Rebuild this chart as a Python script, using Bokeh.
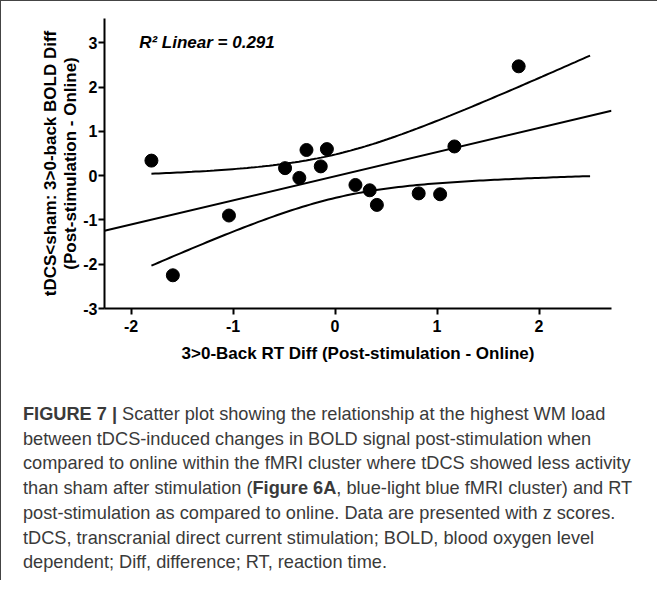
import numpy as np
from bokeh.plotting import figure
from bokeh.models import Range1d, FixedTicker, Label, Div
from bokeh.layouts import column
from bokeh.embed import file_html
from bokeh.resources import INLINE

# ---- data ----
rt_diff = [-1.80, -1.59, -1.04, -0.49, -0.35, -0.28, -0.14, -0.08, 0.20, 0.34, 0.41, 0.82, 1.03, 1.17, 1.80]
bold_diff = [0.34, -2.25, -0.90, 0.17, -0.05, 0.58, 0.21, 0.60, -0.21, -0.33, -0.66, -0.40, -0.42, 0.66, 2.47]
x_ticks = [-2, -1, 0, 1, 2]
x_tick_labels = ["-2", "-1", "0", "1", "2"]
y_ticks = [-3, -2, -1, 0, 1, 2, 3]
y_tick_labels = ["-3", "-2", "-1", "0", "1", "2", "3"]
x_title = "3>0-Back RT Diff (Post-stimulation - Online)"
y_title = "tDCS<sham: 3>0-back BOLD Diff\n(Post-stimulation - Online)"
r2_text = "R\u00b2 Linear = 0.291"
band_x_end = 2.5
t_crit = 2.160  # t(0.975, df=13)

caption_lines = [
    "<b>FIGURE 7 |</b> Scatter plot showing the relationship at the highest WM load",
    "between tDCS-induced changes in BOLD signal post-stimulation when",
    "compared to online within the fMRI cluster where tDCS showed less activity",
    "than sham after stimulation (<b>Figure 6A</b>, blue-light blue fMRI cluster) and RT",
    "post-stimulation as compared to online. Data are presented with z scores.",
    "tDCS, transcranial direct current stimulation; BOLD, blood oxygen level",
    "dependent; Diff, difference; RT, reaction time.",
]

# ---- fit ----
x = np.array(rt_diff)
y = np.array(bold_diff)
n = len(x)
xm, ym = x.mean(), y.mean()
sxx = ((x - xm) ** 2).sum()
b = ((x - xm) * (y - ym)).sum() / sxx
a = ym - b * xm
s = np.sqrt(((y - (a + b * x)) ** 2).sum() / (n - 2))

X_LO, X_HI = -2.26, 2.71
Y_LO, Y_HI = -3.0, 3.55

p = figure(width=647, height=396, x_range=Range1d(X_LO, X_HI), y_range=Range1d(Y_LO, Y_HI),
           output_backend="svg", toolbar_location=None,
           min_border_left=103, min_border_right=37, min_border_top=17, min_border_bottom=89)
p.grid.visible = False
p.outline_line_color = None
p.background_fill_color = "white"
p.border_fill_color = "white"

# regression line
xl = np.array([X_LO, X_HI])
p.line(xl, a + b * xl, line_color="black", line_width=2)
# confidence bands
xb = np.linspace(x.min(), band_x_end, 120)
yb = a + b * xb
half = t_crit * s * np.sqrt(1.0 / n + (xb - xm) ** 2 / sxx)
p.line(xb, yb + half, line_color="black", line_width=2)
p.line(xb, yb - half, line_color="black", line_width=2)

p.scatter(rt_diff, bold_diff, size=13, color="black")

p.add_layout(Label(x=-1.92, y=3, text=r2_text, text_font="Liberation Sans", text_font_size="17px",
                   text_font_style="bold italic", text_baseline="middle", text_color="black"))

for ax in (p.xaxis[0], p.yaxis[0]):
    ax.axis_line_width = 2
    ax.axis_line_color = "black"
    ax.major_tick_line_width = 2
    ax.major_tick_line_color = "black"
    ax.major_tick_out = 6
    ax.major_tick_in = 0
    ax.minor_tick_out = 0
    ax.minor_tick_in = 0
    ax.major_label_text_font = "Liberation Sans"
    ax.major_label_text_font_style = "bold"
    ax.major_label_text_font_size = "16px"
    ax.major_label_text_color = "black"
    ax.axis_label_text_font = "Liberation Sans"
    ax.axis_label_text_font_style = "bold"
    ax.axis_label_text_font_size = "17px"
    ax.axis_label_text_color = "black"

p.xaxis.ticker = FixedTicker(ticks=x_ticks)
p.xaxis.major_label_overrides = dict(zip(x_ticks, x_tick_labels))
p.xaxis.axis_label = x_title
p.xaxis.major_label_standoff = 5
p.xaxis.axis_label_standoff = 9

p.yaxis.ticker = FixedTicker(ticks=y_ticks)
p.yaxis.major_label_overrides = dict(zip(y_ticks, y_tick_labels))
p.yaxis.axis_label = y_title
p.yaxis.major_label_standoff = 1
p.yaxis.axis_label_standoff = 0
p.yaxis.axis_label_text_line_height = 1.05

cap_html = ('<div style="padding-left:17px;font-family:\'Liberation Sans\';font-size:18.2px;'
            'line-height:24.7px;color:#3a3a3a;white-space:nowrap;">' + "<br>".join(caption_lines) + "</div>")
div = Div(text=cap_html, width=647)

layout = column(p, div, spacing=0,
                styles={"border-left": "1.5px solid #444", "border-top": "1.5px solid #444",
                        "background-color": "white"})

open("out.html", "w").write(file_html(layout, INLINE))
